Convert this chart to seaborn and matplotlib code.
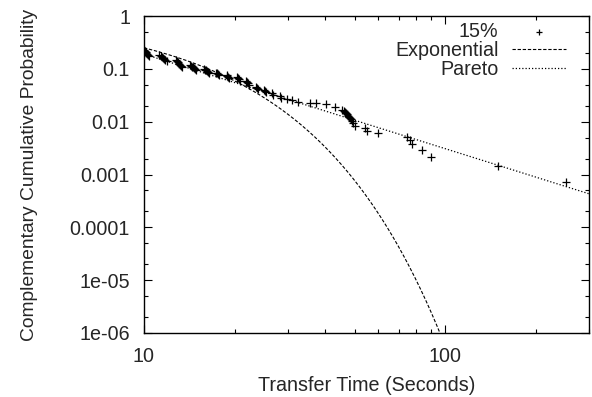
import numpy as np
import pandas as pd
import matplotlib
matplotlib.use("Agg")
import matplotlib.pyplot as plt
import seaborn as sns
from matplotlib.ticker import LogLocator, FixedLocator, FixedFormatter, NullFormatter

# ---- data ----
obs_x = [10.0, 10.06, 10.12, 10.18, 10.24, 10.3, 10.36,
         11.25, 11.35, 11.45, 11.56, 11.67, 11.78, 11.88,
         12.75, 12.87, 12.97, 13.07, 13.18, 13.28, 13.38,
         14.2, 14.33, 14.45, 14.55, 14.66, 14.78, 14.9,
         15.85, 15.98, 16.1, 16.2, 16.32, 16.45,
         17.4, 17.52, 17.64, 17.76,
         18.8, 18.93, 19.06, 19.2,
         20.3, 20.45, 20.6, 20.75,
         21.8, 21.95, 22.1, 22.25,
         23.5, 23.7, 23.9,
         25.0, 25.2, 25.4,
         26.7, 26.9,
         28.2, 28.4,
         29.9, 31.0, 32.5, 35.6, 37.3, 40.2, 43.1,
         45.5, 46.0, 46.5, 47.0, 47.3, 47.6, 48.0, 48.3, 48.7, 49.1, 49.5, 50.2,
         54.2, 55.1, 59.9, 74.8, 76.5, 77.7, 83.9, 89.8, 150.0, 252.0]
obs_y = [0.232, 0.222, 0.212, 0.202, 0.192, 0.182, 0.172,
         0.186, 0.178, 0.170, 0.162, 0.154, 0.146, 0.139,
         0.146, 0.139, 0.132, 0.126, 0.120, 0.115, 0.110,
         0.120, 0.115, 0.110, 0.106, 0.102, 0.098, 0.094,
         0.100, 0.097, 0.094, 0.091, 0.088, 0.085,
         0.085, 0.082, 0.079, 0.076,
         0.076, 0.073, 0.070, 0.067,
         0.069, 0.066, 0.063, 0.060,
         0.059, 0.056, 0.053, 0.050,
         0.046, 0.0435, 0.041,
         0.040, 0.038, 0.036,
         0.0345, 0.0325,
         0.0300, 0.0285,
         0.0268, 0.0257, 0.0235, 0.0225, 0.0222, 0.0216, 0.0189,
         0.0166, 0.0160, 0.0154, 0.0146, 0.0140, 0.0130, 0.0122, 0.0116, 0.0110, 0.0103, 0.0094, 0.0083,
         0.0076, 0.0066, 0.0061, 0.0051, 0.0045, 0.0038, 0.0029, 0.0021, 0.00144, 0.00072]

# fitted model parameters
exp_params = [1.06, 0.1445]        # A, lambda : A*exp(-lambda*x)
pareto_params = [0.19, 10.0, 1.79]  # c, x0, alpha : c*(x/x0)^-alpha
x_range = [10, 300]

y_ticks = [1, 0.1, 0.01, 0.001, 0.0001, 1e-05, 1e-06]
y_tick_labels = ["1", "0.1", "0.01", "0.001", "0.0001", "1e-05", "1e-06"]
x_ticks = [10, 100]
x_tick_labels = ["10", "100"]

series_labels = ["15%", "Exponential", "Pareto"]

# ---- build frames ----
obs = pd.DataFrame({"x": obs_x, "y": obs_y})
xs = np.logspace(np.log10(x_range[0]), np.log10(x_range[1]), 400)
expo = pd.DataFrame({"x": xs, "y": exp_params[0] * np.exp(-exp_params[1] * xs)})
expo = expo[expo["y"] > 5e-7]
par = pd.DataFrame({"x": xs, "y": pareto_params[0] * (xs / pareto_params[1]) ** (-pareto_params[2])})

# ---- plot ----
sns.set_style("ticks")
plt.rcParams['font.family'] = ['Liberation Sans', 'DejaVu Sans']
FS = 14.2
fig = plt.figure(figsize=(5.92, 3.97), dpi=100)
ax = fig.add_axes([144/592, 1-333/397, (589-144)/592, (333-16)/397])

sns.scatterplot(data=obs, x="x", y="y", marker="+", color="black", s=40,
                linewidth=0.9, ax=ax, label=series_labels[0], zorder=3)
sns.lineplot(data=expo, x="x", y="y", color="black", lw=0.8, ax=ax,
             label=series_labels[1], sort=False)
sns.lineplot(data=par, x="x", y="y", color="black", lw=0.9, ax=ax,
             label=series_labels[2], sort=False)
ax.lines[0].set_dashes([3.0, 1.6])
ax.lines[1].set_dashes([1.0, 1.6])

ax.set_xscale("log")
ax.set_yscale("log")
ax.set_xlim(x_range[0], x_range[1])
ax.set_ylim(1e-6, 1)

ax.xaxis.set_major_locator(FixedLocator(x_ticks))
ax.xaxis.set_major_formatter(FixedFormatter(x_tick_labels))
ax.xaxis.set_minor_locator(LogLocator(base=10, subs=np.arange(2, 10)))
ax.xaxis.set_minor_formatter(NullFormatter())
ax.yaxis.set_major_locator(FixedLocator(y_ticks))
ax.yaxis.set_major_formatter(FixedFormatter(y_tick_labels))
ax.yaxis.set_minor_locator(LogLocator(base=10, subs=[2, 5]))
ax.yaxis.set_minor_formatter(NullFormatter())

ax.tick_params(which="both", direction="in", top=True, right=True, color="black",
               labelsize=FS, width=0.8)
ax.tick_params(which="major", length=6, pad=10)
ax.tick_params(which="minor", length=3)
for s in ax.spines.values():
    s.set_linewidth(1.0)
    s.set_color("black")

ax.set_xlabel("Transfer Time (Seconds)", fontsize=FS, labelpad=7)
ax.set_ylabel("Complementary Cumulative Probability", fontsize=FS - 0.3, labelpad=23)

leg = ax.legend(loc="upper right", bbox_to_anchor=(0.965, 1.005), frameon=False,
                markerfirst=False, fontsize=FS, handlelength=2.7,
                labelspacing=0.0, borderaxespad=0.0, handletextpad=0.7)
for t in leg.get_texts():
    t.set_ha("right")
leg._legend_box.align = "right"
for h in leg.legend_handles:
    try:
        h.set_sizes([20])
    except Exception:
        pass

fig.savefig("out.png", dpi=100)
